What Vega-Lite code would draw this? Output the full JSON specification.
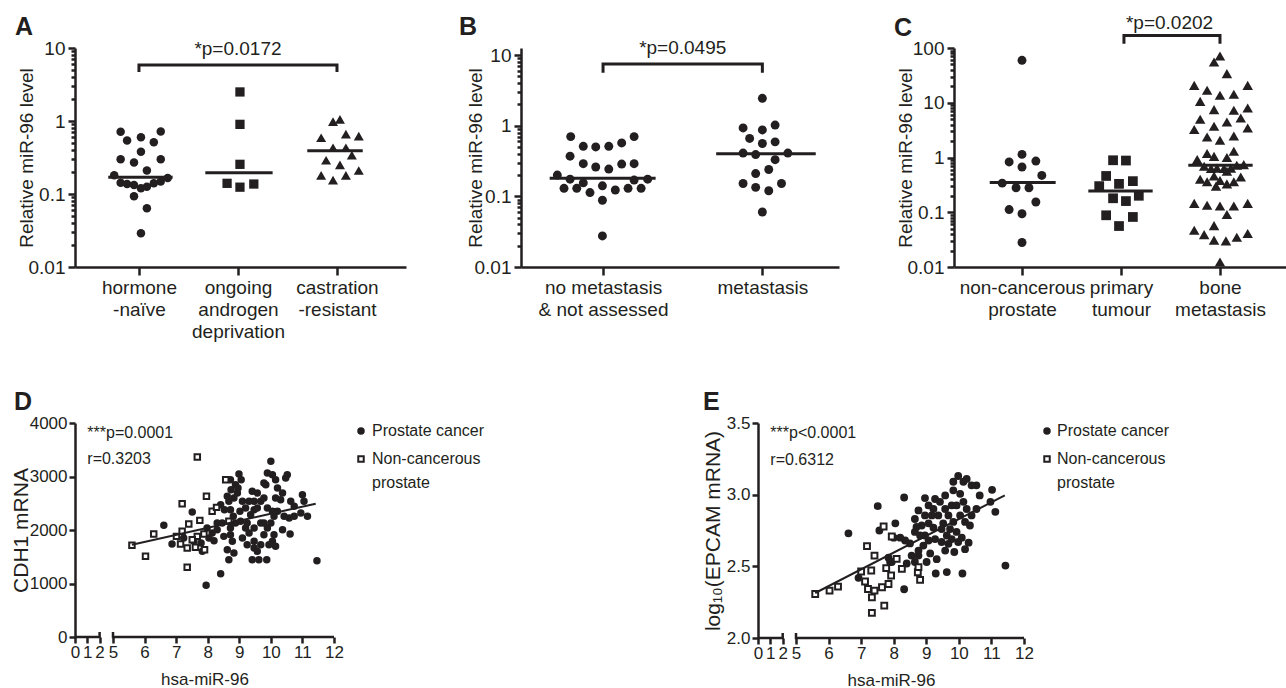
{
"$schema": "https://vega.github.io/schema/vega-lite/v6.json",
"background": "white",
"padding": {"left": 10, "top": 13, "right": 2, "bottom": 2},
"config": {
  "font": "Liberation Sans",
  "view": {"stroke": null},
  "style": {"guide-label": {"lineHeight": 24}},
  "axis": {"grid": false, "domainColor": "#231f20", "tickColor": "#231f20", "labelColor": "#231f20", "titleColor": "#231f20", "domainWidth": 2.5, "tickWidth": 2.5, "labelFont": "Liberation Sans", "titleFont": "Liberation Sans", "titleFontWeight": "normal", "labelFontSize": 19, "titleFontSize": 19, "labelOverlap": false, "labelFlush": false, "labelBound": false},
  "title": {"fontSize": 25, "fontWeight": "bold", "anchor": "start", "frame": "group", "offset": -1, "color": "#231f20", "font": "Liberation Sans"},
  "legend": {"labelFont": "Liberation Sans"}
},
"datasets": {
  "pA": [
    {"grp":"hn","x":0.815,"v":0.71},{"grp":"hn","x":1.22,"v":0.72},{"grp":"hn","x":0.88,"v":0.54},{"grp":"hn","x":1.02,"v":0.6},{"grp":"hn","x":1.15,"v":0.51},{"grp":"hn","x":1.02,"v":0.38},{"grp":"hn","x":0.815,"v":0.30},{"grp":"hn","x":0.95,"v":0.27},{"grp":"hn","x":1.22,"v":0.30},{"grp":"hn","x":1.08,"v":0.21},{"grp":"hn","x":0.75,"v":0.18},{"grp":"hn","x":1.29,"v":0.166},{"grp":"hn","x":0.815,"v":0.143},{"grp":"hn","x":0.88,"v":0.137},{"grp":"hn","x":0.95,"v":0.133},{"grp":"hn","x":1.02,"v":0.12},{"grp":"hn","x":1.08,"v":0.126},{"grp":"hn","x":1.15,"v":0.14},{"grp":"hn","x":1.22,"v":0.148},{"grp":"hn","x":0.95,"v":0.093},{"grp":"hn","x":1.08,"v":0.064},{"grp":"hn","x":1.02,"v":0.029},
    {"grp":"og","x":2.02,"v":2.5},{"grp":"og","x":2.02,"v":0.90},{"grp":"og","x":2.02,"v":0.255},{"grp":"og","x":1.89,"v":0.14},{"grp":"og","x":2.02,"v":0.124},{"grp":"og","x":2.16,"v":0.137},
    {"grp":"cr","x":2.96,"v":0.98},{"grp":"cr","x":3.03,"v":1.05},{"grp":"cr","x":2.84,"v":0.59},{"grp":"cr","x":3.09,"v":0.66},{"grp":"cr","x":3.22,"v":0.62},{"grp":"cr","x":2.96,"v":0.43},{"grp":"cr","x":3.09,"v":0.43},{"grp":"cr","x":2.89,"v":0.29},{"grp":"cr","x":3.15,"v":0.34},{"grp":"cr","x":3.03,"v":0.25},{"grp":"cr","x":2.84,"v":0.18},{"grp":"cr","x":2.96,"v":0.155},{"grp":"cr","x":3.09,"v":0.18},{"grp":"cr","x":3.22,"v":0.21}
  ],
  "mA": [{"x1":0.69,"x2":1.34,"v":0.17},{"x1":1.67,"x2":2.35,"v":0.196},{"x1":2.70,"x2":3.26,"v":0.39}],
  "bA": [{"o":1,"x":1,"v":4.69},{"o":2,"x":1,"v":5.85},{"o":3,"x":3,"v":5.85},{"o":4,"x":3,"v":4.69}],
  "tA": [{"x":2,"v":8.0,"t":"*p=0.0172"}],
  "pB": [
    {"x":0.797,"v":0.70},{"x":1.195,"v":0.70},{"x":0.876,"v":0.51},{"x":0.954,"v":0.50},{"x":1.036,"v":0.51},{"x":1.117,"v":0.57},{"x":0.793,"v":0.37},{"x":0.876,"v":0.29},{"x":0.954,"v":0.26},{"x":1.036,"v":0.243},{"x":1.117,"v":0.286},{"x":1.195,"v":0.29},{"x":0.713,"v":0.20},{"x":0.793,"v":0.175},{"x":0.876,"v":0.155},{"x":0.755,"v":0.13},{"x":0.835,"v":0.13},{"x":0.918,"v":0.113},{"x":0.996,"v":0.141},{"x":1.077,"v":0.123},{"x":1.157,"v":0.13},{"x":1.239,"v":0.13},{"x":1.28,"v":0.175},{"x":1.195,"v":0.17},{"x":0.996,"v":0.088},{"x":0.996,"v":0.0275},
    {"x":2.0,"v":2.44},{"x":1.879,"v":0.93},{"x":2.0,"v":0.87},{"x":2.08,"v":1.02},{"x":1.92,"v":0.66},{"x":2.0,"v":0.56},{"x":2.08,"v":0.59},{"x":1.879,"v":0.41},{"x":1.958,"v":0.39},{"x":2.16,"v":0.41},{"x":2.08,"v":0.33},{"x":1.958,"v":0.21},{"x":2.04,"v":0.24},{"x":1.879,"v":0.152},{"x":1.958,"v":0.134},{"x":2.04,"v":0.12},{"x":2.12,"v":0.152},{"x":2.0,"v":0.06}
  ],
  "mB": [{"x1":0.665,"x2":1.33,"v":0.18},{"x1":1.71,"x2":2.335,"v":0.40}],
  "bB": [{"o":1,"x":1,"v":5.62},{"o":2,"x":1,"v":7.46},{"o":3,"x":2,"v":7.46},{"o":4,"x":2,"v":5.62}],
  "tB": [{"x":1.5,"v":10.5,"t":"*p=0.0495"}],
  "pC": [
    {"grp":"nc","x":1.0,"v":59.6},{"grp":"nc","x":1.0,"v":1.14},{"grp":"nc","x":0.87,"v":0.83},{"grp":"nc","x":1.14,"v":0.86},{"grp":"nc","x":1.0,"v":0.67},{"grp":"nc","x":1.2,"v":0.47},{"grp":"nc","x":0.80,"v":0.34},{"grp":"nc","x":0.94,"v":0.28},{"grp":"nc","x":1.07,"v":0.28},{"grp":"nc","x":1.14,"v":0.154},{"grp":"nc","x":0.87,"v":0.112},{"grp":"nc","x":1.0,"v":0.094},{"grp":"nc","x":1.0,"v":0.028},
    {"grp":"pt","x":1.92,"v":0.89},{"grp":"pt","x":2.05,"v":0.88},{"grp":"pt","x":1.85,"v":0.46},{"grp":"pt","x":1.78,"v":0.30},{"grp":"pt","x":1.98,"v":0.33},{"grp":"pt","x":2.12,"v":0.37},{"grp":"pt","x":1.92,"v":0.18},{"grp":"pt","x":2.05,"v":0.16},{"grp":"pt","x":2.18,"v":0.2},{"grp":"pt","x":1.85,"v":0.088},{"grp":"pt","x":2.12,"v":0.082},{"grp":"pt","x":1.98,"v":0.056},
    {"grp":"bm","x":3.0,"v":71.5},{"grp":"bm","x":2.94,"v":55.5},{"grp":"bm","x":3.07,"v":34},{"grp":"bm","x":2.74,"v":20.8},{"grp":"bm","x":3.28,"v":20.8},{"grp":"bm","x":2.87,"v":16.9},{"grp":"bm","x":3.0,"v":13.7},{"grp":"bm","x":3.14,"v":14.3},{"grp":"bm","x":2.8,"v":10.6},{"grp":"bm","x":2.94,"v":7.5},{"grp":"bm","x":3.14,"v":7.3},{"grp":"bm","x":3.28,"v":8.0},{"grp":"bm","x":3.21,"v":5.25},{"grp":"bm","x":2.8,"v":5.0},{"grp":"bm","x":3.07,"v":4.45},{"grp":"bm","x":2.94,"v":3.72},{"grp":"bm","x":2.74,"v":3.24},{"grp":"bm","x":3.28,"v":3.46},{"grp":"bm","x":2.87,"v":2.37},{"grp":"bm","x":3.14,"v":2.47},{"grp":"bm","x":3.0,"v":2.06},{"grp":"bm","x":3.14,"v":1.30},{"grp":"bm","x":2.87,"v":1.18},{"grp":"bm","x":2.94,"v":1.05},{"grp":"bm","x":3.07,"v":1.0},{"grp":"bm","x":2.77,"v":0.92},{"grp":"bm","x":2.84,"v":0.69},{"grp":"bm","x":2.91,"v":0.63},{"grp":"bm","x":2.97,"v":0.64},{"grp":"bm","x":3.04,"v":0.63},{"grp":"bm","x":3.11,"v":0.64},{"grp":"bm","x":3.17,"v":0.72},{"grp":"bm","x":3.24,"v":0.74},{"grp":"bm","x":3.07,"v":0.56},{"grp":"bm","x":2.94,"v":0.46},{"grp":"bm","x":3.21,"v":0.44},{"grp":"bm","x":2.8,"v":0.40},{"grp":"bm","x":2.87,"v":0.36},{"grp":"bm","x":3.0,"v":0.38},{"grp":"bm","x":3.14,"v":0.36},{"grp":"bm","x":3.07,"v":0.33},{"grp":"bm","x":2.96,"v":0.30},{"grp":"bm","x":2.74,"v":0.145},{"grp":"bm","x":2.87,"v":0.134},{"grp":"bm","x":3.0,"v":0.13},{"grp":"bm","x":3.14,"v":0.13},{"grp":"bm","x":3.28,"v":0.145},{"grp":"bm","x":3.07,"v":0.091},{"grp":"bm","x":2.94,"v":0.057},{"grp":"bm","x":2.74,"v":0.047},{"grp":"bm","x":2.84,"v":0.039},{"grp":"bm","x":2.94,"v":0.031},{"grp":"bm","x":3.06,"v":0.030},{"grp":"bm","x":3.17,"v":0.035},{"grp":"bm","x":3.28,"v":0.041},{"grp":"bm","x":3.0,"v":0.0123}
  ],
  "mC": [{"x1":0.674,"x2":1.34,"v":0.35},{"x1":1.67,"x2":2.32,"v":0.245},{"x1":2.68,"x2":3.33,"v":0.72}],
  "bC": [{"o":1,"x":2.03,"v":120},{"o":2,"x":2.03,"v":170},{"o":3,"x":3,"v":170},{"o":4,"x":3,"v":120}],
  "tC": [{"x":2.49,"v":226,"t":"*p=0.0202"}],
  "axD": [{"seg":1,"o":1,"mir":0,"cdh1":0},{"seg":1,"o":2,"mir":2,"cdh1":0},{"seg":1,"o":3,"mir":2,"cdh1":95},{"seg":2,"o":1,"mir":5,"cdh1":95},{"seg":2,"o":2,"mir":5,"cdh1":0},{"seg":2,"o":3,"mir":12,"cdh1":0}],
  "pD": [
    {"group":"Prostate cancer","mir":6.61,"cdh1":2087},{"group":"Prostate cancer","mir":6.87,"cdh1":1738},{"group":"Prostate cancer","mir":7.51,"cdh1":2336},{"group":"Prostate cancer","mir":7.95,"cdh1":966},{"group":"Prostate cancer","mir":8.41,"cdh1":1184},{"group":"Prostate cancer","mir":11.46,"cdh1":1427},
    {"group":"Prostate cancer","mir":7.56,"cdh1":1788},{"group":"Prostate cancer","mir":7.79,"cdh1":1757},{"group":"Prostate cancer","mir":8.04,"cdh1":1850},{"group":"Prostate cancer","mir":8.20,"cdh1":1800},{"group":"Prostate cancer","mir":7.98,"cdh1":2037},{"group":"Prostate cancer","mir":8.30,"cdh1":2131},{"group":"Prostate cancer","mir":8.14,"cdh1":1944},{"group":"Prostate cancer","mir":7.83,"cdh1":1601},{"group":"Prostate cancer","mir":7.24,"cdh1":1850},{"group":"Prostate cancer","mir":8.62,"cdh1":2629},{"group":"Prostate cancer","mir":8.74,"cdh1":2754},
    {"group":"Prostate cancer","mir":8.99,"cdh1":3046},{"group":"Prostate cancer","mir":9.06,"cdh1":2940},{"group":"Prostate cancer","mir":8.88,"cdh1":2847},{"group":"Prostate cancer","mir":8.94,"cdh1":2691},{"group":"Prostate cancer","mir":8.83,"cdh1":2598},{"group":"Prostate cancer","mir":8.67,"cdh1":2536},{"group":"Prostate cancer","mir":8.72,"cdh1":2380},{"group":"Prostate cancer","mir":8.53,"cdh1":2380},{"group":"Prostate cancer","mir":8.81,"cdh1":2255},{"group":"Prostate cancer","mir":9.02,"cdh1":2349},{"group":"Prostate cancer","mir":9.20,"cdh1":2411},{"group":"Prostate cancer","mir":9.04,"cdh1":2162},{"group":"Prostate cancer","mir":8.88,"cdh1":2131},{"group":"Prostate cancer","mir":8.72,"cdh1":2037},{"group":"Prostate cancer","mir":8.72,"cdh1":1912},{"group":"Prostate cancer","mir":8.78,"cdh1":1788},{"group":"Prostate cancer","mir":8.62,"cdh1":1632},{"group":"Prostate cancer","mir":8.67,"cdh1":1445},{"group":"Prostate cancer","mir":8.83,"cdh1":1570},{"group":"Prostate cancer","mir":9.25,"cdh1":2131},{"group":"Prostate cancer","mir":9.36,"cdh1":2286},{"group":"Prostate cancer","mir":9.47,"cdh1":2536},{"group":"Prostate cancer","mir":9.57,"cdh1":2411},{"group":"Prostate cancer","mir":9.68,"cdh1":2536},{"group":"Prostate cancer","mir":9.78,"cdh1":2598},{"group":"Prostate cancer","mir":9.89,"cdh1":2411},{"group":"Prostate cancer","mir":9.84,"cdh1":2847},{"group":"Prostate cancer","mir":10.0,"cdh1":3283},{"group":"Prostate cancer","mir":9.89,"cdh1":3065},{"group":"Prostate cancer","mir":10.05,"cdh1":3034},{"group":"Prostate cancer","mir":10.15,"cdh1":2940},{"group":"Prostate cancer","mir":9.78,"cdh1":2878},{"group":"Prostate cancer","mir":10.21,"cdh1":2785},{"group":"Prostate cancer","mir":10.37,"cdh1":2691},{"group":"Prostate cancer","mir":10.47,"cdh1":2971},{"group":"Prostate cancer","mir":10.52,"cdh1":3034},{"group":"Prostate cancer","mir":10.63,"cdh1":2536},{"group":"Prostate cancer","mir":10.74,"cdh1":2442},{"group":"Prostate cancer","mir":10.58,"cdh1":2224},{"group":"Prostate cancer","mir":10.61,"cdh1":1925},{"group":"Prostate cancer","mir":10.31,"cdh1":2567},{"group":"Prostate cancer","mir":10.15,"cdh1":2598},{"group":"Prostate cancer","mir":10.21,"cdh1":2349},{"group":"Prostate cancer","mir":10.05,"cdh1":2349},{"group":"Prostate cancer","mir":10.0,"cdh1":2131},{"group":"Prostate cancer","mir":10.10,"cdh1":1912},{"group":"Prostate cancer","mir":10.05,"cdh1":1788},{"group":"Prostate cancer","mir":10.15,"cdh1":1695},{"group":"Prostate cancer","mir":9.94,"cdh1":1726},{"group":"Prostate cancer","mir":9.78,"cdh1":1912},{"group":"Prostate cancer","mir":9.68,"cdh1":1726},{"group":"Prostate cancer","mir":9.57,"cdh1":1601},{"group":"Prostate cancer","mir":9.62,"cdh1":1445},{"group":"Prostate cancer","mir":9.47,"cdh1":1788},{"group":"Prostate cancer","mir":9.41,"cdh1":1445},{"group":"Prostate cancer","mir":9.47,"cdh1":1663},{"group":"Prostate cancer","mir":9.31,"cdh1":1944},{"group":"Prostate cancer","mir":9.25,"cdh1":1726},{"group":"Prostate cancer","mir":9.10,"cdh1":1850},{"group":"Prostate cancer","mir":9.20,"cdh1":2037},{"group":"Prostate cancer","mir":9.47,"cdh1":2037},{"group":"Prostate cancer","mir":9.68,"cdh1":2131},{"group":"Prostate cancer","mir":9.87,"cdh1":1445},{"group":"Prostate cancer","mir":9.78,"cdh1":2131},{"group":"Prostate cancer","mir":9.47,"cdh1":2380},{"group":"Prostate cancer","mir":9.31,"cdh1":2536},{"group":"Prostate cancer","mir":9.10,"cdh1":2536},{"group":"Prostate cancer","mir":9.41,"cdh1":2723},{"group":"Prostate cancer","mir":9.57,"cdh1":2691},{"group":"Prostate cancer","mir":11.0,"cdh1":2660},{"group":"Prostate cancer","mir":11.05,"cdh1":2536},{"group":"Prostate cancer","mir":10.95,"cdh1":2318},{"group":"Prostate cancer","mir":11.16,"cdh1":2255},{"group":"Prostate cancer","mir":10.74,"cdh1":2255},{"group":"Prostate cancer","mir":10.42,"cdh1":2255},{"group":"Prostate cancer","mir":10.37,"cdh1":2006},{"group":"Prostate cancer","mir":9.89,"cdh1":2037},{"group":"Prostate cancer","mir":10.10,"cdh1":2255},{"group":"Prostate cancer","mir":8.41,"cdh1":2474},{"group":"Prostate cancer","mir":8.46,"cdh1":2131},{"group":"Prostate cancer","mir":8.72,"cdh1":2940},{"group":"Prostate cancer","mir":8.96,"cdh1":2785},{"group":"Prostate cancer","mir":8.51,"cdh1":1881},{"group":"Prostate cancer","mir":8.30,"cdh1":2006},
    {"group":"Non-cancerous prostate","mir":5.60,"cdh1":1713},{"group":"Non-cancerous prostate","mir":6.03,"cdh1":1508},{"group":"Non-cancerous prostate","mir":6.29,"cdh1":1925},{"group":"Non-cancerous prostate","mir":7.67,"cdh1":3364},{"group":"Non-cancerous prostate","mir":7.19,"cdh1":2492},{"group":"Non-cancerous prostate","mir":8.57,"cdh1":2940},{"group":"Non-cancerous prostate","mir":7.96,"cdh1":2629},{"group":"Non-cancerous prostate","mir":7.75,"cdh1":2180},{"group":"Non-cancerous prostate","mir":7.40,"cdh1":2112},{"group":"Non-cancerous prostate","mir":7.19,"cdh1":1975},{"group":"Non-cancerous prostate","mir":7.01,"cdh1":1881},{"group":"Non-cancerous prostate","mir":7.14,"cdh1":1738},{"group":"Non-cancerous prostate","mir":7.35,"cdh1":1663},{"group":"Non-cancerous prostate","mir":7.61,"cdh1":1676},{"group":"Non-cancerous prostate","mir":7.90,"cdh1":1632},{"group":"Non-cancerous prostate","mir":7.67,"cdh1":1881},{"group":"Non-cancerous prostate","mir":7.35,"cdh1":1302},{"group":"Non-cancerous prostate","mir":8.14,"cdh1":2349},{"group":"Non-cancerous prostate","mir":8.28,"cdh1":2423},{"group":"Non-cancerous prostate","mir":7.88,"cdh1":1925},{"group":"Non-cancerous prostate","mir":8.67,"cdh1":2162},{"group":"Non-cancerous prostate","mir":7.51,"cdh1":1819}
  ],
  "lD": [{"mir":5.6,"cdh1":1726},{"mir":11.42,"cdh1":2492}],
  "tD": [{"mir":1.0,"cdh1":3720,"t":"***p=0.0001"},{"mir":1.0,"cdh1":3228,"t":"r=0.3203"}],
  "axE": [{"seg":1,"o":1,"mir":0,"epcam":2.0},{"seg":1,"o":2,"mir":2,"epcam":2.0},{"seg":1,"o":3,"mir":2,"epcam":2.035},{"seg":2,"o":1,"mir":5,"epcam":2.035},{"seg":2,"o":2,"mir":5,"epcam":2.0},{"seg":2,"o":3,"mir":12,"epcam":2.0}],
  "pE": [
    {"group":"Prostate cancer","mir":6.61,"epcam":2.73},{"group":"Prostate cancer","mir":7.51,"epcam":2.92},{"group":"Prostate cancer","mir":7.56,"epcam":2.75},{"group":"Prostate cancer","mir":8.32,"epcam":2.98},{"group":"Prostate cancer","mir":6.92,"epcam":2.42},{"group":"Prostate cancer","mir":8.32,"epcam":2.34},{"group":"Prostate cancer","mir":11.43,"epcam":2.505},{"group":"Prostate cancer","mir":8.05,"epcam":2.80},{"group":"Prostate cancer","mir":8.20,"epcam":2.70},{"group":"Prostate cancer","mir":8.0,"epcam":2.70},{"group":"Prostate cancer","mir":7.84,"epcam":2.56},{"group":"Prostate cancer","mir":7.89,"epcam":2.53},{"group":"Prostate cancer","mir":8.40,"epcam":2.52},{"group":"Prostate cancer","mir":8.50,"epcam":2.66},{"group":"Prostate cancer","mir":8.65,"epcam":2.83},{"group":"Prostate cancer","mir":8.76,"epcam":2.89},{"group":"Prostate cancer","mir":8.96,"epcam":2.976},{"group":"Prostate cancer","mir":9.07,"epcam":2.925},{"group":"Prostate cancer","mir":8.86,"epcam":2.785},{"group":"Prostate cancer","mir":8.65,"epcam":2.74},{"group":"Prostate cancer","mir":8.76,"epcam":2.61},{"group":"Prostate cancer","mir":8.76,"epcam":2.575},{"group":"Prostate cancer","mir":8.91,"epcam":2.645},{"group":"Prostate cancer","mir":8.96,"epcam":2.715},{"group":"Prostate cancer","mir":9.01,"epcam":2.53},{"group":"Prostate cancer","mir":9.12,"epcam":2.59},{"group":"Prostate cancer","mir":9.07,"epcam":2.68},{"group":"Prostate cancer","mir":9.22,"epcam":2.77},{"group":"Prostate cancer","mir":9.27,"epcam":2.69},{"group":"Prostate cancer","mir":9.32,"epcam":2.55},{"group":"Prostate cancer","mir":9.29,"epcam":2.45},{"group":"Prostate cancer","mir":9.42,"epcam":2.95},{"group":"Prostate cancer","mir":9.37,"epcam":2.855},{"group":"Prostate cancer","mir":9.52,"epcam":2.80},{"group":"Prostate cancer","mir":9.58,"epcam":2.90},{"group":"Prostate cancer","mir":9.63,"epcam":2.715},{"group":"Prostate cancer","mir":9.58,"epcam":2.61},{"group":"Prostate cancer","mir":9.63,"epcam":2.46},{"group":"Prostate cancer","mir":9.68,"epcam":2.855},{"group":"Prostate cancer","mir":9.83,"epcam":3.09},{"group":"Prostate cancer","mir":9.83,"epcam":3.03},{"group":"Prostate cancer","mir":9.78,"epcam":2.925},{"group":"Prostate cancer","mir":9.83,"epcam":2.81},{"group":"Prostate cancer","mir":9.86,"epcam":2.60},{"group":"Prostate cancer","mir":9.93,"epcam":2.74},{"group":"Prostate cancer","mir":9.98,"epcam":3.13},{"group":"Prostate cancer","mir":10.04,"epcam":3.006},{"group":"Prostate cancer","mir":10.14,"epcam":3.09},{"group":"Prostate cancer","mir":10.24,"epcam":3.11},{"group":"Prostate cancer","mir":10.14,"epcam":2.95},{"group":"Prostate cancer","mir":10.24,"epcam":2.90},{"group":"Prostate cancer","mir":10.19,"epcam":2.81},{"group":"Prostate cancer","mir":10.09,"epcam":2.70},{"group":"Prostate cancer","mir":10.11,"epcam":2.45},{"group":"Prostate cancer","mir":10.30,"epcam":2.665},{"group":"Prostate cancer","mir":10.39,"epcam":3.065},{"group":"Prostate cancer","mir":10.54,"epcam":3.065},{"group":"Prostate cancer","mir":10.64,"epcam":2.995},{"group":"Prostate cancer","mir":10.54,"epcam":2.90},{"group":"Prostate cancer","mir":11.02,"epcam":3.034},{"group":"Prostate cancer","mir":10.97,"epcam":2.95},{"group":"Prostate cancer","mir":11.12,"epcam":2.88},{"group":"Prostate cancer","mir":9.47,"epcam":2.67},{"group":"Prostate cancer","mir":9.68,"epcam":2.657},{"group":"Prostate cancer","mir":8.55,"epcam":2.575},{"group":"Prostate cancer","mir":8.65,"epcam":2.53},{"group":"Prostate cancer","mir":8.81,"epcam":2.715},{"group":"Prostate cancer","mir":8.96,"epcam":2.855},{"group":"Prostate cancer","mir":9.17,"epcam":2.855},{"group":"Prostate cancer","mir":9.22,"epcam":2.90},{"group":"Prostate cancer","mir":9.47,"epcam":2.76},{"group":"Prostate cancer","mir":9.73,"epcam":2.76},{"group":"Prostate cancer","mir":10.04,"epcam":2.855},{"group":"Prostate cancer","mir":9.98,"epcam":2.67},{"group":"Prostate cancer","mir":10.39,"epcam":2.855},{"group":"Prostate cancer","mir":10.34,"epcam":2.785},{"group":"Prostate cancer","mir":10.19,"epcam":2.62},{"group":"Prostate cancer","mir":9.07,"epcam":2.80},{"group":"Prostate cancer","mir":9.78,"epcam":2.69},{"group":"Prostate cancer","mir":9.93,"epcam":2.925},{"group":"Prostate cancer","mir":9.58,"epcam":2.995},{"group":"Prostate cancer","mir":9.27,"epcam":2.97},{"group":"Prostate cancer","mir":8.70,"epcam":2.775},{"group":"Prostate cancer","mir":8.35,"epcam":2.68},{"group":"Prostate cancer","mir":7.94,"epcam":2.53},
    {"group":"Non-cancerous prostate","mir":5.59,"epcam":2.307},{"group":"Non-cancerous prostate","mir":6.03,"epcam":2.331},{"group":"Non-cancerous prostate","mir":6.29,"epcam":2.359},{"group":"Non-cancerous prostate","mir":7.0,"epcam":2.464},{"group":"Non-cancerous prostate","mir":7.18,"epcam":2.641},{"group":"Non-cancerous prostate","mir":7.31,"epcam":2.471},{"group":"Non-cancerous prostate","mir":7.41,"epcam":2.575},{"group":"Non-cancerous prostate","mir":7.12,"epcam":2.394},{"group":"Non-cancerous prostate","mir":7.21,"epcam":2.342},{"group":"Non-cancerous prostate","mir":7.33,"epcam":2.284},{"group":"Non-cancerous prostate","mir":7.33,"epcam":2.175},{"group":"Non-cancerous prostate","mir":7.41,"epcam":2.331},{"group":"Non-cancerous prostate","mir":7.64,"epcam":2.354},{"group":"Non-cancerous prostate","mir":7.71,"epcam":2.226},{"group":"Non-cancerous prostate","mir":7.69,"epcam":2.778},{"group":"Non-cancerous prostate","mir":7.77,"epcam":2.487},{"group":"Non-cancerous prostate","mir":7.84,"epcam":2.377},{"group":"Non-cancerous prostate","mir":7.92,"epcam":2.436},{"group":"Non-cancerous prostate","mir":8.09,"epcam":2.552},{"group":"Non-cancerous prostate","mir":8.25,"epcam":2.482},{"group":"Non-cancerous prostate","mir":7.94,"epcam":2.708},{"group":"Non-cancerous prostate","mir":8.74,"epcam":2.459},{"group":"Non-cancerous prostate","mir":8.81,"epcam":2.405},{"group":"Non-cancerous prostate","mir":8.76,"epcam":2.494}
  ],
  "lE": [{"mir":5.59,"epcam":2.314},{"mir":11.41,"epcam":2.995}],
  "tE": [{"mir":1.0,"epcam":3.397,"t":"***p<0.0001"},{"mir":1.0,"epcam":3.204,"t":"r=0.6312"}]
},
"vconcat": [
  {
    "hconcat": [
      {
        "width": 331, "height": 219,
        "title": {"text": "A", "dx": -60},
        "layer": [
          {"data": {"name": "pA"}, "mark": {"type": "point", "filled": true, "color": "#231f20", "opacity": 1},
           "encoding": {
             "x": {"field": "x", "type": "quantitative", "scale": {"domain": [0.354, 3.697], "nice": false, "zero": false},
                   "axis": {"values": [1, 2, 3], "title": null, "tickSize": 8, "labelPadding": 3, "labelLineHeight": 22,
                            "labelExpr": "datum.value==1?['hormone','-naïve']:datum.value==2?['ongoing','androgen','deprivation']:['castration','-resistant']"}},
             "y": {"field": "v", "type": "quantitative", "scale": {"type": "log", "domain": [0.01, 10], "nice": false},
                   "axis": {"values": [0.01,0.02,0.03,0.04,0.05,0.06,0.07,0.08,0.09,0.1,0.2,0.3,0.4,0.5,0.6,0.7,0.8,0.9,1,2,3,4,5,6,7,8,9,10],
                            "labelExpr": "datum.value==0.01?'0.01':datum.value==0.1?'0.1':datum.value==1?'1':datum.value==10?'10':datum.value==100?'100':''",
                            "tickSize": {"condition": {"test": "datum.value==0.01||datum.value==0.1||datum.value==1||datum.value==10||datum.value==100", "value": 7}, "value": 4},
                            "title": "Relative miR-96 level", "titlePadding": -8, "labelPadding": 3}},
             "shape": {"field": "grp", "type": "nominal", "scale": {"domain": ["hn", "og", "cr"], "range": ["circle", "square", "triangle-up"]}, "legend": null},
             "size": {"field": "grp", "type": "ordinal", "scale": {"domain": ["hn", "og", "cr"], "range": [72, 100, 125]}, "legend": null}
           }},
          {"data": {"name": "mA"}, "mark": {"type": "rule", "strokeWidth": 3, "color": "#231f20"},
           "encoding": {"x": {"field": "x1", "type": "quantitative"}, "x2": {"field": "x2"}, "y": {"field": "v", "type": "quantitative"}}},
          {"data": {"name": "bA"}, "mark": {"type": "line", "strokeWidth": 3, "color": "#231f20", "strokeJoin": "miter"},
           "encoding": {"x": {"field": "x", "type": "quantitative"}, "y": {"field": "v", "type": "quantitative"}, "order": {"field": "o"}}},
          {"data": {"name": "tA"}, "mark": {"type": "text", "fontSize": 19, "align": "center", "baseline": "alphabetic", "color": "#231f20"},
           "encoding": {"x": {"field": "x", "type": "quantitative"}, "y": {"field": "v", "type": "quantitative"}, "text": {"field": "t"}}}
        ]
      },
      {
        "width": 318, "height": 219,
        "title": {"text": "B", "dx": -62},
        "layer": [
          {"data": {"name": "pB"}, "mark": {"type": "circle", "color": "#231f20", "opacity": 1, "size": 80},
           "encoding": {
             "x": {"field": "x", "type": "quantitative", "scale": {"domain": [0.485, 2.481], "nice": false, "zero": false},
                   "axis": {"values": [1, 2], "title": null, "tickSize": 8, "labelPadding": 3, "labelLineHeight": 22,
                            "labelExpr": "datum.value==1?['no metastasis','& not assessed']:'metastasis'"}},
             "y": {"field": "v", "type": "quantitative", "scale": {"type": "log", "domain": [0.01, 12.57], "nice": false},
                   "axis": {"values": [0.01,0.02,0.03,0.04,0.05,0.06,0.07,0.08,0.09,0.1,0.2,0.3,0.4,0.5,0.6,0.7,0.8,0.9,1,2,3,4,5,6,7,8,9,10],
                            "labelExpr": "datum.value==0.01?'0.01':datum.value==0.1?'0.1':datum.value==1?'1':datum.value==10?'10':datum.value==100?'100':''",
                            "tickSize": {"condition": {"test": "datum.value==0.01||datum.value==0.1||datum.value==1||datum.value==10||datum.value==100", "value": 7}, "value": 4},
                            "title": "Relative miR-96 level", "titlePadding": -11, "labelPadding": 3}}
           }},
          {"data": {"name": "mB"}, "mark": {"type": "rule", "strokeWidth": 3, "color": "#231f20"},
           "encoding": {"x": {"field": "x1", "type": "quantitative"}, "x2": {"field": "x2"}, "y": {"field": "v", "type": "quantitative"}}},
          {"data": {"name": "bB"}, "mark": {"type": "line", "strokeWidth": 3, "color": "#231f20", "strokeJoin": "miter"},
           "encoding": {"x": {"field": "x", "type": "quantitative"}, "y": {"field": "v", "type": "quantitative"}, "order": {"field": "o"}}},
          {"data": {"name": "tB"}, "mark": {"type": "text", "fontSize": 19, "align": "center", "baseline": "alphabetic", "color": "#231f20"},
           "encoding": {"x": {"field": "x", "type": "quantitative"}, "y": {"field": "v", "type": "quantitative"}, "text": {"field": "t"}}}
        ]
      },
      {
        "width": 332, "height": 219,
        "title": {"text": "C", "dx": -60, "dy": 26},
        "layer": [
          {"data": {"name": "pC"}, "mark": {"type": "point", "filled": true, "color": "#231f20", "opacity": 1},
           "encoding": {
             "x": {"field": "x", "type": "quantitative", "scale": {"domain": [0.313, 3.667], "nice": false, "zero": false},
                   "axis": {"values": [1, 2, 3], "title": null, "tickSize": 8, "labelPadding": 3, "labelLineHeight": 22,
                            "labelExpr": "datum.value==1?['non-cancerous','prostate']:datum.value==2?['primary','tumour']:['bone','metastasis']"}},
             "y": {"field": "v", "type": "quantitative", "scale": {"type": "log", "domain": [0.01, 100], "nice": false},
                   "axis": {"values": [0.01,0.02,0.03,0.04,0.05,0.06,0.07,0.08,0.09,0.1,0.2,0.3,0.4,0.5,0.6,0.7,0.8,0.9,1,2,3,4,5,6,7,8,9,10,20,30,40,50,60,70,80,90,100],
                            "labelExpr": "datum.value==0.01?'0.01':datum.value==0.1?'0.1':datum.value==1?'1':datum.value==10?'10':datum.value==100?'100':''",
                            "tickSize": {"condition": {"test": "datum.value==0.01||datum.value==0.1||datum.value==1||datum.value==10||datum.value==100", "value": 7}, "value": 4},
                            "title": "Relative miR-96 level", "titlePadding": -8, "labelPadding": 3}},
             "shape": {"field": "grp", "type": "nominal", "scale": {"domain": ["nc", "pt", "bm"], "range": ["circle", "square", "triangle-up"]}, "legend": null},
             "size": {"field": "grp", "type": "ordinal", "scale": {"domain": ["nc", "pt", "bm"], "range": [80, 110, 125]}, "legend": null}
           }},
          {"data": {"name": "mC"}, "mark": {"type": "rule", "strokeWidth": 3, "color": "#231f20"},
           "encoding": {"x": {"field": "x1", "type": "quantitative"}, "x2": {"field": "x2"}, "y": {"field": "v", "type": "quantitative"}}},
          {"data": {"name": "bC"}, "mark": {"type": "line", "strokeWidth": 3, "color": "#231f20", "strokeJoin": "miter"},
           "encoding": {"x": {"field": "x", "type": "quantitative"}, "y": {"field": "v", "type": "quantitative"}, "order": {"field": "o"}}},
          {"data": {"name": "tC"}, "mark": {"type": "text", "fontSize": 19, "align": "center", "baseline": "alphabetic", "color": "#231f20"},
           "encoding": {"x": {"field": "x", "type": "quantitative"}, "y": {"field": "v", "type": "quantitative"}, "text": {"field": "t"}}}
        ]
      }
    ],
    "spacing": 115,
    "bounds": "flush",
    "resolve": {"scale": {"shape": "independent", "size": "independent"}}
  },
  {
    "hconcat": [
      {
        "width": 259, "height": 214,
        "title": {"text": "D", "dx": -61},
        "encoding": {
          "x": {"field": "mir", "type": "quantitative", "scale": {"domain": [0, 2, 5, 12], "range": [0, 24.6, 38, 259], "nice": false, "zero": false},
                "axis": {"values": [0,1,2,5,6,7,8,9,10,11,12], "format": "d", "labelOverlap": false, "domain": false, "tickSize": 6, "labelFontSize": 17, "titleFontSize": 17, "labelPadding": 1, "title": "hsa-miR-96", "titlePadding": 11}},
          "y": {"field": "cdh1", "type": "quantitative", "scale": {"domain": [0, 4000], "nice": false},
                "axis": {"values": [0, 1000, 2000, 3000, 4000], "format": "d", "tickSize": 6, "labelFontSize": 17, "titleFontSize": 21, "labelPadding": 2, "title": "CDH1 mRNA", "titlePadding": -2}}
        },
        "layer": [
          {"data": {"name": "axD"}, "mark": {"type": "line", "strokeWidth": 2.5, "color": "#231f20", "strokeJoin": "miter", "strokeCap": "butt"},
           "encoding": {"detail": {"field": "seg"}, "order": {"field": "o"}}},
          {"data": {"name": "pD"}, "mark": {"type": "point", "filled": true, "opacity": 1, "strokeWidth": 2, "size": 30},
           "encoding": {
             "shape": {"field": "group", "type": "nominal", "scale": {"domain": ["Prostate cancer", "Non-cancerous prostate"], "range": ["circle", "square"]},
                       "legend": {"title": null, "orient": "right", "offset": 14, "padding": 0, "labelFontSize": 16, "symbolSize": 30, "symbolStrokeWidth": 2, "labelOffset": 3, "rowPadding": 12, "labelColor": "#231f20",
                                  "labelExpr": "datum.label=='Non-cancerous prostate'?['Non-cancerous','prostate']:datum.label"}},
             "fill": {"field": "group", "type": "nominal", "scale": {"domain": ["Prostate cancer", "Non-cancerous prostate"], "range": ["#231f20", "#ffffff"]},
                      "legend": {"title": null, "orient": "right", "offset": 14, "padding": 0, "labelFontSize": 16, "symbolSize": 30, "symbolStrokeWidth": 2, "labelOffset": 3, "rowPadding": 12, "labelColor": "#231f20",
                                 "labelExpr": "datum.label=='Non-cancerous prostate'?['Non-cancerous','prostate']:datum.label"}},
             "stroke": {"field": "group", "type": "nominal", "scale": {"domain": ["Prostate cancer", "Non-cancerous prostate"], "range": ["#231f20", "#231f20"]},
                      "legend": {"title": null, "orient": "right", "offset": 14, "padding": 0, "labelFontSize": 16, "symbolSize": 30, "symbolStrokeWidth": 2, "labelOffset": 3, "rowPadding": 12, "labelColor": "#231f20",
                                 "labelExpr": "datum.label=='Non-cancerous prostate'?['Non-cancerous','prostate']:datum.label"}}
           }},
          {"data": {"name": "lD"}, "mark": {"type": "line", "strokeWidth": 2, "color": "#231f20"}, "encoding": {}},
          {"data": {"name": "tD"}, "mark": {"type": "text", "fontSize": 16, "align": "left", "baseline": "alphabetic", "color": "#231f20"},
           "encoding": {"text": {"field": "t"}}}
        ]
      },
      {
        "width": 266, "height": 215,
        "title": {"text": "E", "dx": -55},
        "encoding": {
          "x": {"field": "mir", "type": "quantitative", "scale": {"domain": [0, 2, 5, 12], "range": [0, 24.7, 38, 266], "nice": false, "zero": false},
                "axis": {"values": [0,1,2,5,6,7,8,9,10,11,12], "format": "d", "labelOverlap": false, "domain": false, "tickSize": 6, "labelFontSize": 17, "titleFontSize": 17, "labelPadding": 1, "title": "hsa-miR-96", "titlePadding": 11}},
          "y": {"field": "epcam", "type": "quantitative", "scale": {"domain": [2.0, 3.5], "nice": false, "zero": false},
                "axis": {"values": [2.0, 2.5, 3.0, 3.5], "format": ".1f", "tickSize": 6, "labelFontSize": 17, "titleFontSize": 21, "labelPadding": 2, "title": "log₁₀(EPCAM mRNA)", "titlePadding": 3}}
        },
        "layer": [
          {"data": {"name": "axE"}, "mark": {"type": "line", "strokeWidth": 2.5, "color": "#231f20", "strokeJoin": "miter", "strokeCap": "butt"},
           "encoding": {"detail": {"field": "seg"}, "order": {"field": "o"}}},
          {"data": {"name": "pE"}, "mark": {"type": "point", "filled": true, "opacity": 1, "strokeWidth": 2, "size": 34},
           "encoding": {
             "shape": {"field": "group", "type": "nominal", "scale": {"domain": ["Prostate cancer", "Non-cancerous prostate"], "range": ["circle", "square"]},
                       "legend": {"title": null, "orient": "right", "offset": 10, "padding": 0, "labelFontSize": 16, "symbolSize": 30, "symbolStrokeWidth": 2, "labelOffset": 2, "rowPadding": 12, "labelColor": "#231f20",
                                  "labelExpr": "datum.label=='Non-cancerous prostate'?['Non-cancerous','prostate']:datum.label"}},
             "fill": {"field": "group", "type": "nominal", "scale": {"domain": ["Prostate cancer", "Non-cancerous prostate"], "range": ["#231f20", "#ffffff"]},
                      "legend": {"title": null, "orient": "right", "offset": 10, "padding": 0, "labelFontSize": 16, "symbolSize": 30, "symbolStrokeWidth": 2, "labelOffset": 2, "rowPadding": 12, "labelColor": "#231f20",
                                 "labelExpr": "datum.label=='Non-cancerous prostate'?['Non-cancerous','prostate']:datum.label"}},
             "stroke": {"field": "group", "type": "nominal", "scale": {"domain": ["Prostate cancer", "Non-cancerous prostate"], "range": ["#231f20", "#231f20"]},
                      "legend": {"title": null, "orient": "right", "offset": 10, "padding": 0, "labelFontSize": 16, "symbolSize": 30, "symbolStrokeWidth": 2, "labelOffset": 2, "rowPadding": 12, "labelColor": "#231f20",
                                 "labelExpr": "datum.label=='Non-cancerous prostate'?['Non-cancerous','prostate']:datum.label"}}
           }},
          {"data": {"name": "lE"}, "mark": {"type": "line", "strokeWidth": 2, "color": "#231f20"}, "encoding": {}},
          {"data": {"name": "tE"}, "mark": {"type": "text", "fontSize": 16, "align": "left", "baseline": "alphabetic", "color": "#231f20"},
           "encoding": {"text": {"field": "t"}}}
        ]
      }
    ],
    "spacing": 424,
    "bounds": "flush",
    "resolve": {"scale": {"shape": "independent", "fill": "independent", "stroke": "independent"}, "legend": {"shape": "independent", "fill": "independent", "stroke": "independent"}}
  }
],
"spacing": 49,
"bounds": "full",
"resolve": {"scale": {"shape": "independent", "fill": "independent", "stroke": "independent", "size": "independent"}, "legend": {"shape": "independent", "fill": "independent", "stroke": "independent"}}
}
